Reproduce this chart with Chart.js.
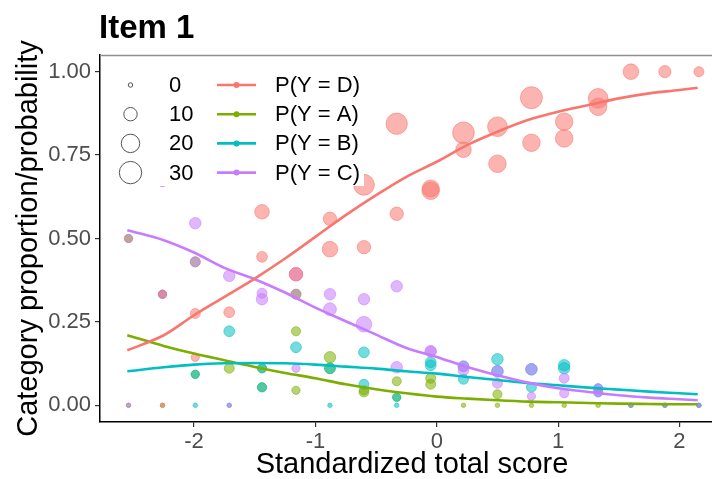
<!DOCTYPE html>
<html>
<head>
<meta charset="utf-8">
<title>Item 1</title>
<script src="https://cdn.jsdelivr.net/npm/chart.js@4.4.0/dist/chart.umd.min.js"></script>
<style>
  html, body { margin: 0; padding: 0; background: #fff; overflow: hidden; }
  #wrap { width: 712px; height: 479px; }
</style>
</head>
<body>
<div id="wrap"><canvas id="chart" width="712" height="479"></canvas></div>
<script>
'use strict';

// ---- data ----
const categories = ['D', 'A', 'B', 'C'];
const xTicks = [-2, -1, 0, 1, 2];
const yTicks = [0, 0.25, 0.5, 0.75, 1];
const sizeBreaks = [0, 10, 20, 30];

// empirical proportions: [standardized score, proportion, count]
const pointsD = [
    [-2.54, 0.50, 3], [-2.26, 0.333, 3], [-2.26, 0, 0], [-1.99, 0.275, 5], [-1.99, 0.144, 3],
    [-1.71, 0.279, 6], [-1.44, 0.58, 12], [-1.44, 0.445, 6], [-1.16, 0.393, 10], [-1.16, 0.333, 5],
    [-0.88, 0.559, 10], [-0.88, 0.468, 14], [-0.60, 0.661, 26], [-0.60, 0.474, 10],
    [-0.33, 0.844, 27], [-0.33, 0.574, 10], [-0.05, 0.643, 18], [-0.05, 0.65, 17],
    [0.22, 0.817, 28], [0.22, 0.766, 14], [0.50, 0.835, 23], [0.50, 0.724, 18],
    [0.78, 0.922, 29], [0.78, 0.787, 18], [1.05, 0.85, 18], [1.05, 0.80, 18],
    [1.33, 0.92, 23], [1.33, 0.895, 18], [1.60, 1, 14], [1.88, 1, 8], [2.16, 1, 5]
];
const pointsA = [
    [-2.54, 0, 0], [-2.26, 0, 0], [-1.99, 0.093, 3], [-1.99, 0.43, 5], [-1.71, 0.111, 5],
    [-1.44, 0.054, 4], [-1.44, 0.111, 4], [-1.16, 0.045, 3], [-1.16, 0.222, 4],
    [-0.88, 0.144, 7], [-0.88, 0.111, 6], [-0.60, 0.04, 5], [-0.60, 0.045, 4],
    [-0.33, 0.024, 3], [-0.33, 0.072, 4], [-0.05, 0.063, 5], [-0.05, 0.081, 5],
    [0.22, 0, 0], [0.50, 0, 0], [0.50, 0.033, 4], [0.78, 0, 0], [1.05, 0, 0],
    [1.33, 0, 0], [1.60, 0, 0], [1.88, 0, 0], [2.16, 0, 0]
];
const pointsB = [
    [-2.54, 0.50, 3], [-2.26, 0.333, 3], [-1.99, 0.093, 3], [-1.99, 0, 0], [-1.71, 0.222, 6],
    [-1.71, 0, 0], [-1.44, 0.054, 4], [-1.44, 0.111, 4], [-1.16, 0.174, 6], [-1.16, 0.333, 5],
    [-0.88, 0, 0], [-0.88, 0.111, 6], [-0.60, 0.063, 5], [-0.60, 0.159, 6],
    [-0.33, 0.024, 3], [-0.33, 0, 0], [-0.05, 0.129, 6], [-0.05, 0.12, 6],
    [0.22, 0.078, 5], [0.22, 0.117, 6], [0.50, 0.102, 7], [0.50, 0.138, 7],
    [0.78, 0.054, 5], [0.78, 0.108, 7], [1.05, 0.111, 7], [1.05, 0.12, 7],
    [1.33, 0.039, 4], [1.33, 0.051, 4], [1.60, 0, 0], [1.88, 0, 0], [2.16, 0, 0]
];
const pointsC = [
    [-2.54, 0, 0], [-2.26, 0.333, 3], [-2.26, 0.667, 3], [-1.99, 0.546, 7], [-1.99, 0.43, 5],
    [-1.71, 0.388, 7], [-1.71, 0, 0], [-1.44, 0.318, 7], [-1.44, 0.336, 5],
    [-1.16, 0.393, 10], [-1.16, 0.111, 3], [-0.88, 0.288, 9], [-0.88, 0.333, 7],
    [-0.60, 0.243, 14], [-0.60, 0.318, 7], [-0.33, 0.114, 7], [-0.33, 0.357, 7],
    [-0.05, 0.162, 7], [-0.05, 0.162, 6], [0.22, 0.105, 6], [0.22, 0.117, 6],
    [0.50, 0.066, 5], [0.50, 0.102, 7], [0.78, 0.027, 3], [0.78, 0.108, 7],
    [1.05, 0.036, 4], [1.05, 0.081, 5], [1.33, 0.039, 4], [1.33, 0.051, 4],
    [1.60, 0, 0], [1.88, 0, 0], [2.16, 0, 0]
];

// fitted multinomial curves
const curveX = [-2.55, -2.25, -2.0, -1.75, -1.5, -1.25, -1.0, -0.75, -0.5, -0.25, 0, 0.25, 0.5, 0.75, 1.0, 1.25, 1.5, 1.75, 2.0, 2.15];
const curveD = [0.165, 0.21, 0.27, 0.325, 0.38, 0.44, 0.505, 0.57, 0.63, 0.685, 0.73, 0.78, 0.82, 0.855, 0.88, 0.90, 0.92, 0.935, 0.945, 0.952];
const curveA = [0.21, 0.178, 0.155, 0.135, 0.115, 0.097, 0.081, 0.063, 0.048, 0.036, 0.026, 0.02, 0.015, 0.011, 0.009, 0.007, 0.005, 0.004, 0.003, 0.003];
const curveB = [0.102, 0.114, 0.122, 0.126, 0.127, 0.126, 0.122, 0.116, 0.11, 0.102, 0.095, 0.085, 0.076, 0.067, 0.06, 0.053, 0.047, 0.041, 0.036, 0.033];
const curveC = [0.525, 0.495, 0.458, 0.412, 0.378, 0.338, 0.293, 0.252, 0.212, 0.172, 0.145, 0.115, 0.09, 0.068, 0.051, 0.04, 0.03, 0.023, 0.018, 0.015];

// ---- styling ----
const FONT = "'Liberation Sans', Arial, Helvetica, sans-serif";
const rgb = { D: [248, 118, 109], A: [124, 174, 0], B: [0, 191, 196], C: [199, 124, 255] };
const solid = k => 'rgb(' + rgb[k].join(',') + ')';
const faded = k => 'rgba(' + rgb[k].join(',') + ',0.55)';

// ggplot-like area scaling of the point size
const sizeToRadius = n => Math.sqrt(5 + 4 * n);

const pointsBy = { D: pointsD, A: pointsA, B: pointsB, C: pointsC };
const curvesBy = { D: curveD, A: curveA, B: curveB, C: curveC };
const drawRank = { A: 0, B: 1, C: 2, D: 3 };   // D drawn on top

const datasets = [];
categories.forEach(function (k) {
    datasets.push({
        type: 'scatter',
        label: 'obs ' + k,
        data: pointsBy[k].map(p => ({ x: p[0], y: p[1], n: p[2] })),
        backgroundColor: faded(k),
        borderColor: faded(k),
        borderWidth: 1,
        pointRadius: ctx => ctx.raw ? sizeToRadius(ctx.raw.n) : 0,
        pointHoverRadius: ctx => ctx.raw ? sizeToRadius(ctx.raw.n) : 0,
        order: 10 - drawRank[k]
    });
    datasets.push({
        type: 'line',
        label: 'P(Y = ' + k + ')',
        data: curveX.map((x, i) => ({ x: x, y: curvesBy[k][i] })),
        borderColor: solid(k),
        borderWidth: 2.6,
        pointRadius: 0,
        tension: 0.4,
        cubicInterpolationMode: 'monotone',
        fill: false,
        order: 5 - drawRank[k]
    });
});

// title, x title, top rule and the ggplot-style legend box
const decorations = {
    id: 'decorations',
    afterDraw(chart) {
        const ctx = chart.ctx;
        const area = chart.chartArea;
        ctx.save();

        ctx.strokeStyle = '#8f8f8f';
        ctx.lineWidth = 1.5;
        ctx.beginPath();
        ctx.moveTo(area.left, area.top + 0.5);
        ctx.lineTo(area.right, area.top + 0.5);
        ctx.stroke();

        ctx.fillStyle = '#fff';
        ctx.fillRect(108, 62, 256, 124);

        ctx.textBaseline = 'middle';
        ctx.font = '22px ' + FONT;
        sizeBreaks.forEach(function (n, i) {
            const y = 85 + i * 29.2;
            ctx.strokeStyle = '#555';
            ctx.lineWidth = 1;
            ctx.beginPath();
            ctx.arc(130.5, y, sizeToRadius(n), 0, Math.PI * 2);
            ctx.stroke();
            ctx.fillStyle = '#000';
            ctx.textAlign = 'left';
            ctx.fillText(String(n), 169, y + 1);
        });
        categories.forEach(function (k, i) {
            const y = 85 + i * 29.2;
            ctx.strokeStyle = solid(k);
            ctx.lineWidth = 2.6;
            ctx.beginPath();
            ctx.moveTo(217, y);
            ctx.lineTo(256, y);
            ctx.stroke();
            ctx.fillStyle = solid(k);
            ctx.beginPath();
            ctx.arc(236.5, y, 3, 0, Math.PI * 2);
            ctx.fill();
            ctx.fillStyle = '#000';
            ctx.fillText('P(Y = ' + k + ')', 275, y + 1);
        });

        // x title is centred on the full (uncropped) panel, as in the source
        ctx.font = '29px ' + FONT;
        ctx.textAlign = 'center';
        ctx.fillText('Standardized total score', 412, 465);

        ctx.font = 'bold 33px ' + FONT;
        ctx.textAlign = 'left';
        ctx.textBaseline = 'alphabetic';
        ctx.fillText('Item 1', 99, 38);
        ctx.restore();
    }
};

new Chart(document.getElementById('chart'), {
    type: 'scatter',
    data: { datasets: datasets },
    options: {
        responsive: false,
        animation: false,
        devicePixelRatio: 1,
        layout: { autoPadding: false, padding: { top: 55, left: 0, right: 0, bottom: 0 } },
        plugins: { legend: { display: false }, tooltip: { enabled: false }, title: { display: false } },
        scales: {
            x: {
                type: 'linear',
                min: -2.775,
                max: 2.268,
                afterBuildTicks: s => { s.ticks = xTicks.map(v => ({ value: v })); },
                afterFit: s => { s.height = 57; },
                ticks: { callback: v => String(v), color: '#4d4d4d', font: { size: 22, family: FONT }, padding: 2, maxRotation: 0 },
                grid: { display: true, drawOnChartArea: false, drawTicks: true, tickLength: 5, color: '#333', lineWidth: 1.2 },
                border: { display: true, color: '#000', width: 1.5 },
                title: { display: false }
            },
            y: {
                type: 'linear',
                min: -0.05,
                max: 1.05,
                afterBuildTicks: s => { s.ticks = yTicks.map(v => ({ value: v })); },
                afterFit: s => { s.width = 100; },
                ticks: { callback: v => v.toFixed(2), color: '#4d4d4d', font: { size: 22, family: FONT }, padding: 4 },
                grid: { display: true, drawOnChartArea: false, drawTicks: true, tickLength: 5, color: '#333', lineWidth: 1.2 },
                border: { display: true, color: '#000', width: 1.5 },
                title: { display: true, text: 'Category proportion/probability', color: '#000', font: { size: 29, family: FONT, lineHeight: 1.2 }, padding: { top: 12, bottom: 0 } }
            }
        }
    },
    plugins: [decorations]
});
</script>
</body>
</html>
